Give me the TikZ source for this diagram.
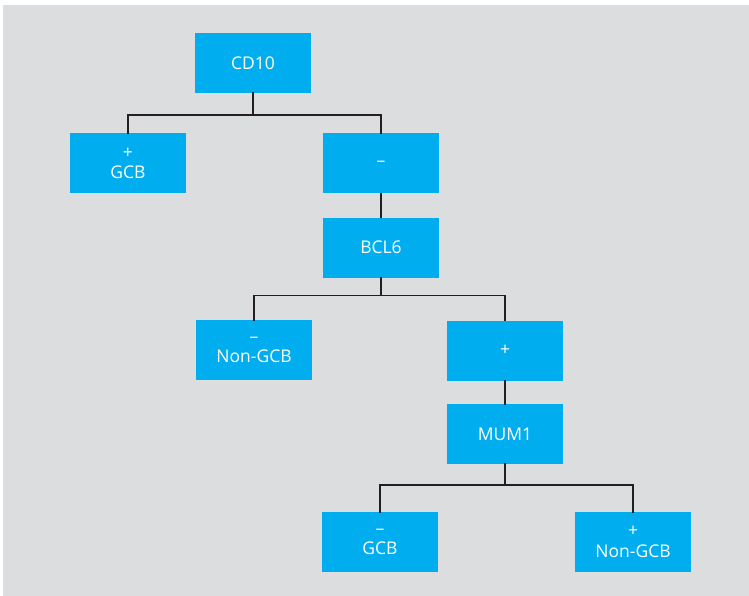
\documentclass[tikz,border=0pt]{standalone}
\usepackage{fontspec}
\setmainfont{Open Sans}
\definecolor{panelgray}{HTML}{DCDDDF}
\definecolor{boxcyan}{HTML}{00AEEF}
\definecolor{wire}{HTML}{231F20}
\begin{document}
\begin{tikzpicture}[x=1pt,y=-1pt,
  decision/.style={fill=boxcyan, draw=none, minimum width=116pt, minimum height=60pt,
    inner sep=0pt, text=white, align=center,
    font=\fontsize{17.5}{20.5}\selectfont},
  link/.style={draw=wire, line width=1.8pt, line cap=rect}]
  % page and grey panel
  \useasboundingbox (0,0) rectangle (749,596);
  \fill[white] (0,0) rectangle (749,596);
  \fill[panelgray] (3,5) rectangle (749,596);

  % decision boxes
  \node[decision] (cd10) at (253,63) {CD10};
  \node[decision] (gcbA) at (128,163.5) {+\\GCB};
  \node[decision] (neg1) at (381,163.5) {–};
  \node[decision] (bcl6) at (381,247.5) {BCL6};
  \node[decision] (nonA) at (254,350) {–\\Non-GCB};
  \node[decision] (pos1) at (505,350.5) {+};
  \node[decision] (mum1) at (505,434) {MUM1};
  \node[decision] (gcbB) at (380,542) {–\\GCB};
  \node[decision] (nonB) at (633,542) {+\\Non-GCB};

  % branch junctions
  \coordinate (j1) at (cd10.south |- 0,115);
  \coordinate (j2) at (bcl6.south |- 0,295.5);
  \coordinate (j3) at (mum1.south |- 0,485);

  % connectors
  \draw[link] (cd10.south) -- (j1);
  \draw[link] (j1) -| (gcbA.north);
  \draw[link] (j1) -| (neg1.north);
  \draw[link] (neg1.south) -- (bcl6.north);
  \draw[link] (bcl6.south) -- (j2);
  \draw[link] (j2) -| (nonA.north);
  \draw[link] (j2) -| (pos1.north);
  \draw[link] (pos1.south) -- (mum1.north);
  \draw[link] (mum1.south) -- (j3);
  \draw[link] (j3) -| (gcbB.north);
  \draw[link] (j3) -| (nonB.north);
\end{tikzpicture}
\end{document}
